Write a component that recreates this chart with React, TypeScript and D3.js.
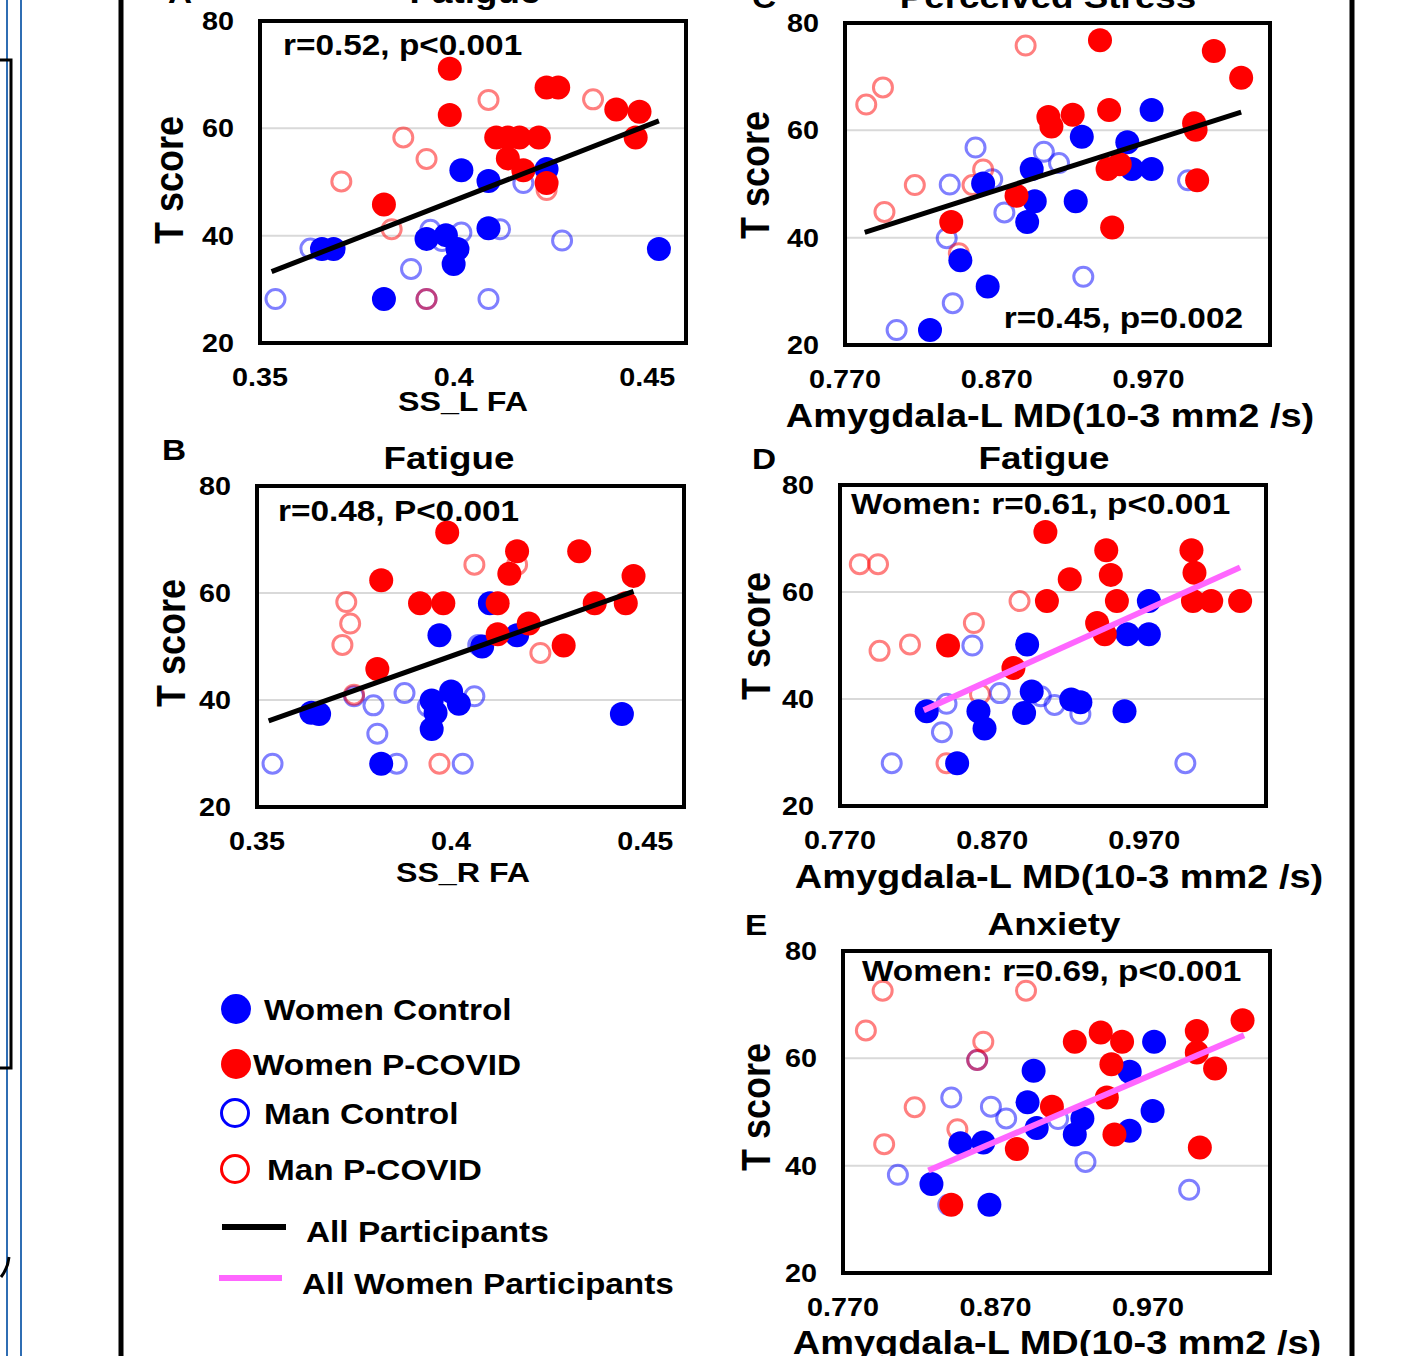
import React from 'react';
import * as d3 from 'd3';

type Pt = [number, number];

// ---- tick labels ----
const tTicks = [20, 40, 60, 80];
const gridTicks = [40, 60];
const ssTicks = [0.35, 0.4, 0.45];
const mdTicks = [0.77, 0.87, 0.97];

// ---- A: Fatigue vs SS_L FA ----
const aWomenControl: Pt[] = [[0.402,52.2],[0.409,50.2],[0.424,52.4],[0.366,37.5],[0.369,37.5],[0.393,39.4],[0.398,40.1],[0.401,37.5],[0.400,34.7],[0.409,41.4],[0.453,37.5],[0.382,28.2]];
const aWomenCovid: Pt[] = [[0.399,71.1],[0.399,62.5],[0.382,45.8],[0.411,58.3],[0.414,58.3],[0.417,58.3],[0.422,58.3],[0.414,54.4],[0.418,52.2],[0.424,49.8],[0.424,67.6],[0.427,67.6],[0.442,63.5],[0.448,63.1],[0.447,58.3]];
const aManControl: Pt[] = [[0.363,37.6],[0.394,41.1],[0.402,40.6],[0.397,39.0],[0.412,41.2],[0.418,49.8],[0.428,39.1],[0.389,33.8],[0.354,28.2],[0.393,28.2],[0.409,28.2]];
const aManCovid: Pt[] = [[0.409,65.3],[0.436,65.4],[0.387,58.3],[0.393,54.3],[0.371,50.1],[0.384,41.2],[0.424,48.5],[0.393,28.2]];
const aFit: Pt[] = [[0.353,33.3],[0.453,61.4]];

// ---- B: Fatigue vs SS_R FA ----
const bWomenControl: Pt[] = [[0.410,58.1],[0.397,52.1],[0.408,50.0],[0.417,52.1],[0.364,37.6],[0.366,37.4],[0.395,39.9],[0.400,41.6],[0.402,39.3],[0.396,37.6],[0.395,34.6],[0.444,37.4],[0.382,28.1]];
const bWomenCovid: Pt[] = [[0.399,71.3],[0.417,67.8],[0.433,67.8],[0.415,63.6],[0.447,63.2],[0.382,62.4],[0.392,58.1],[0.398,58.1],[0.412,58.1],[0.437,58.1],[0.445,58.1],[0.412,52.3],[0.420,54.3],[0.429,50.2],[0.381,45.8]];
const bManControl: Pt[] = [[0.375,40.7],[0.388,41.3],[0.380,39.0],[0.394,38.8],[0.406,40.7],[0.407,50.3],[0.381,33.7],[0.354,28.1],[0.386,28.1],[0.403,28.1]];
const bManCovid: Pt[] = [[0.406,65.3],[0.417,65.3],[0.373,58.3],[0.374,54.3],[0.372,50.3],[0.375,41.0],[0.423,48.8],[0.397,28.1]];
const bFit: Pt[] = [[0.353,36.1],[0.447,60.3]];

// ---- C: Perceived Stress vs Amygdala-L MD ----
const cWomenControl: Pt[] = [[0.972,63.8],[0.926,58.8],[0.956,57.8],[0.959,52.8],[0.972,52.8],[0.893,52.8],[0.861,50.1],[0.895,46.8],[0.922,46.8],[0.890,42.9],[0.846,35.8],[0.864,30.9],[0.826,22.8]];
const cWomenCovid: Pt[] = [[0.938,76.8],[1.013,74.8],[1.031,69.8],[0.904,62.5],[0.906,60.7],[0.920,62.9],[0.944,63.8],[1.000,61.3],[1.001,60.1],[0.943,52.8],[0.951,53.7],[1.002,50.7],[0.883,47.8],[0.840,42.9],[0.946,41.9]];
const cManControl: Pt[] = [[0.856,56.8],[0.901,56.0],[0.911,53.9],[0.867,50.9],[0.839,49.9],[0.875,44.7],[0.837,39.9],[0.927,32.7],[0.841,27.8],[0.804,22.8],[0.996,50.7]];
const cManCovid: Pt[] = [[0.889,75.8],[0.784,64.8],[0.795,68.0],[0.861,52.7],[0.816,49.8],[0.854,49.8],[0.796,44.8],[0.845,37.1]];
const cFit: Pt[] = [[0.783,41.0],[1.031,63.4]];

// ---- D: Fatigue vs Amygdala-L MD ----
const dWomenControl: Pt[] = [[0.973,58.3],[0.959,52.1],[0.973,52.1],[0.893,50.2],[0.896,41.4],[0.827,37.7],[0.861,37.7],[0.865,34.5],[0.891,37.4],[0.922,39.9],[0.928,39.4],[0.957,37.7],[0.847,28.0]];
const dWomenCovid: Pt[] = [[0.905,71.2],[0.945,67.8],[1.001,67.8],[0.921,62.4],[0.948,63.2],[1.003,63.6],[0.906,58.3],[0.952,58.3],[1.002,58.3],[1.014,58.3],[1.033,58.3],[0.939,54.2],[0.944,52.1],[0.841,50.0],[0.884,45.8]];
const dManControl: Pt[] = [[0.857,50.0],[0.875,41.1],[0.902,40.5],[0.911,38.9],[0.928,37.2],[0.840,39.1],[0.837,33.8],[0.804,28.0],[0.997,28.0]];
const dManCovid: Pt[] = [[0.783,65.2],[0.795,65.2],[0.888,58.3],[0.858,54.2],[0.816,50.2],[0.796,49.0],[0.862,40.9],[0.840,28.0]];
const dFit: Pt[] = [[0.825,37.9],[1.033,64.6]];

// ---- E: Anxiety vs Amygdala-L MD ----
const eWomenControl: Pt[] = [[0.974,63.1],[0.895,57.7],[0.958,57.5],[0.891,51.8],[0.973,50.2],[0.927,48.8],[0.897,47.0],[0.922,45.8],[0.958,46.5],[0.847,44.2],[0.862,44.3],[0.828,36.6],[0.866,32.7]];
const eWomenCovid: Pt[] = [[1.032,67.1],[1.002,65.1],[0.939,64.8],[0.953,63.1],[0.922,63.1],[1.002,61.1],[0.946,58.9],[1.014,58.1],[0.943,52.7],[0.907,51.0],[0.948,45.8],[0.884,43.1],[1.004,43.4],[0.841,32.7]];
const eManControl: Pt[] = [[0.858,59.7],[0.841,52.7],[0.867,51.0],[0.877,48.8],[0.911,48.7],[0.929,40.7],[0.806,38.3],[0.839,32.7],[0.997,35.5]];
const eManCovid: Pt[] = [[0.796,72.6],[0.890,72.6],[0.785,65.2],[0.862,63.1],[0.858,59.7],[0.817,50.9],[0.845,46.8],[0.797,44.0]];
const eFit: Pt[] = [[0.826,39.1],[1.033,64.3]];

const FONT = "'Liberation Sans', Arial, sans-serif";
const SX = 1.15; // the figure's lettering is drawn a bit wide
const BLUE = '#0000ff';
const RED = '#ff0000';
const PINK = '#ff66ff';

function Label({ x, y, size, anchor = 'start', rotate = false, children }: any) {
    return (
        <text
            transform={`translate(${x},${y}) scale(${SX},1)${rotate ? ' rotate(-90)' : ''}`}
            fontSize={size}
            fontWeight="bold"
            fontFamily={FONT}
            textAnchor={anchor}
            dy={rotate ? '0.36em' : undefined}
            fill="#000"
        >
            {children}
        </text>
    );
}

const fmtSS = (v: number) => String(v);
const fmtMD = d3.format('.3f');

const panels = [
    {
        letter: 'A', letterPos: [168, 3], title: 'Fatigue', titlePos: [475, 3],
        box: [260, 21, 426, 322], xDomain: [0.35, 0.46], xTicks: ssTicks, xFmt: fmtSS,
        xLabel: 'SS_L FA', xLabelPos: [463, 411], xLabelSize: 28, yLabelPos: [168, 180],
        note: 'r=0.52, p<0.001', notePos: [283, 55], noteAnchor: 'start',
        wc: aWomenControl, wp: aWomenCovid, mc: aManControl, mp: aManCovid, fit: aFit, fitColor: '#000',
    },
    {
        letter: 'B', letterPos: [162, 460], title: 'Fatigue', titlePos: [449, 469],
        box: [257, 486, 427, 321], xDomain: [0.35, 0.46], xTicks: ssTicks, xFmt: fmtSS,
        xLabel: 'SS_R FA', xLabelPos: [463, 882], xLabelSize: 28, yLabelPos: [170, 643],
        note: 'r=0.48, P<0.001', notePos: [278, 521], noteAnchor: 'start',
        wc: bWomenControl, wp: bWomenCovid, mc: bManControl, mp: bManCovid, fit: bFit, fitColor: '#000',
    },
    {
        letter: 'C', letterPos: [752, 8], title: 'Perceived Stress', titlePos: [1048, 8],
        box: [845, 23, 425, 322], xDomain: [0.77, 1.05], xTicks: mdTicks, xFmt: fmtMD,
        xLabel: 'Amygdala-L  MD(10-3 mm2 /s)', xLabelPos: [1050, 427], xLabelSize: 33, yLabelPos: [754, 175],
        note: 'r=0.45, p=0.002', notePos: [1243, 328], noteAnchor: 'end',
        wc: cWomenControl, wp: cWomenCovid, mc: cManControl, mp: cManCovid, fit: cFit, fitColor: '#000',
    },
    {
        letter: 'D', letterPos: [752, 469], title: 'Fatigue', titlePos: [1044, 469],
        box: [840, 485, 426, 321], xDomain: [0.77, 1.05], xTicks: mdTicks, xFmt: fmtMD,
        xLabel: 'Amygdala-L  MD(10-3 mm2 /s)', xLabelPos: [1059, 888], xLabelSize: 33, yLabelPos: [755, 636],
        note: 'Women: r=0.61, p<0.001', notePos: [851, 514], noteAnchor: 'start',
        wc: dWomenControl, wp: dWomenCovid, mc: dManControl, mp: dManCovid, fit: dFit, fitColor: PINK,
    },
    {
        letter: 'E', letterPos: [745, 935], title: 'Anxiety', titlePos: [1054, 935],
        box: [843, 951, 427, 322], xDomain: [0.77, 1.05], xTicks: mdTicks, xFmt: fmtMD,
        xLabel: 'Amygdala-L  MD(10-3 mm2 /s)', xLabelPos: [1057, 1354], xLabelSize: 33, yLabelPos: [755, 1107],
        note: 'Women: r=0.69, p<0.001', notePos: [862, 981], noteAnchor: 'start',
        wc: eWomenControl, wp: eWomenCovid, mc: eManControl, mp: eManCovid, fit: eFit, fitColor: PINK,
    },
];

function Panel({ p }: { p: any }) {
    const [left, top, w, h] = p.box;
    const x = d3.scaleLinear().domain(p.xDomain).range([left, left + w]);
    const y = d3.scaleLinear().domain([20, 80]).range([top + h, top]);
    const line = d3.line<Pt>().x(d => x(d[0])).y(d => y(d[1]));

    const hollow = (pts: Pt[], color: string) =>
        pts.map((d, i) => (
            <circle key={color + i} cx={x(d[0])} cy={y(d[1])} r={9.5}
                fill="none" stroke={color} strokeOpacity={0.5} strokeWidth={3} />
        ));
    const filled = (pts: Pt[], color: string) =>
        pts.map((d, i) => <circle key={color + i} cx={x(d[0])} cy={y(d[1])} r={12} fill={color} />);

    return (
        <g>
            <rect x={left} y={top} width={w} height={h} fill="#fff" />
            {gridTicks.map(t => (
                <line key={t} x1={left} x2={left + w} y1={y(t)} y2={y(t)} stroke="#d9d9d9" strokeWidth={2} />
            ))}
            <g>{hollow(p.mc, BLUE)}</g>
            <g>{hollow(p.mp, RED)}</g>
            <g>{filled(p.wc, BLUE)}</g>
            <g>{filled(p.wp, RED)}</g>
            <path d={line(p.fit) || ''} stroke={p.fitColor} strokeWidth={p.fitColor === PINK ? 6 : 5} fill="none" />
            <rect x={left} y={top} width={w} height={h} fill="none" stroke="#000" strokeWidth={4} />
            <Label x={p.notePos[0]} y={p.notePos[1]} size={29} anchor={p.noteAnchor}>{p.note}</Label>

            {tTicks.map(t => (
                <Label key={t} x={left - 26} y={y(t) + 9} size={25} anchor="end">{t}</Label>
            ))}
            {p.xTicks.map((t: number) => (
                <Label key={t} x={x(t)} y={top + h + 43} size={25} anchor="middle">{p.xFmt(t)}</Label>
            ))}
            <Label x={p.xLabelPos[0]} y={p.xLabelPos[1]} size={p.xLabelSize} anchor="middle">{p.xLabel}</Label>
            <Label x={p.yLabelPos[0]} y={p.yLabelPos[1]} size={36} anchor="middle" rotate>T score</Label>
            <Label x={p.titlePos[0]} y={p.titlePos[1]} size={32} anchor="middle">{p.title}</Label>
            <Label x={p.letterPos[0]} y={p.letterPos[1]} size={29}>{p.letter}</Label>
        </g>
    );
}

function Legend() {
    return (
        <g>
            <circle cx={236} cy={1009} r={15} fill={BLUE} />
            <Label x={264} y={1020} size={29}>Women Control</Label>
            <circle cx={236} cy={1064} r={15} fill={RED} />
            <Label x={253} y={1075} size={29}>Women P-COVID</Label>
            <circle cx={235} cy={1113} r={13.5} fill="none" stroke={BLUE} strokeWidth={3} />
            <Label x={264} y={1124} size={29}>Man Control</Label>
            <circle cx={235} cy={1169} r={13.5} fill="none" stroke={RED} strokeWidth={3} />
            <Label x={267} y={1180} size={29}>Man P-COVID</Label>
            <line x1={222} x2={286} y1={1227} y2={1227} stroke="#000" strokeWidth={6} />
            <Label x={306} y={1242} size={29}>All Participants</Label>
            <line x1={219} x2={282} y1={1278} y2={1278} stroke={PINK} strokeWidth={6} />
            <Label x={302} y={1294} size={29}>All Women Participants</Label>
        </g>
    );
}

export default function App() {
    const W = 1405, H = 1356;
    return (
        <svg width={W} height={H} style={{ position: 'absolute', left: 0, top: 0, display: 'block', background: '#fff' }}>
            <rect width={W} height={H} fill="#fff" />
            {/* page edges around the figure */}
            <line x1={7} x2={7} y1={0} y2={H} stroke="#2f6db3" strokeWidth={2} />
            <line x1={21} x2={21} y1={0} y2={H} stroke="#2f6db3" strokeWidth={2} />
            <path d="M0,60 H11 V1068 H0" fill="none" stroke="#000" strokeWidth={3} />
            <path d="M9,1257 Q8,1268 1,1277" fill="none" stroke="#000" strokeWidth={3} />
            <line x1={121} x2={121} y1={0} y2={H} stroke="#000" strokeWidth={5} />
            <line x1={1352} x2={1352} y1={0} y2={H} stroke="#000" strokeWidth={5} />
            {panels.map(p => <Panel key={p.letter} p={p} />)}
            <Legend />
        </svg>
    );
}
